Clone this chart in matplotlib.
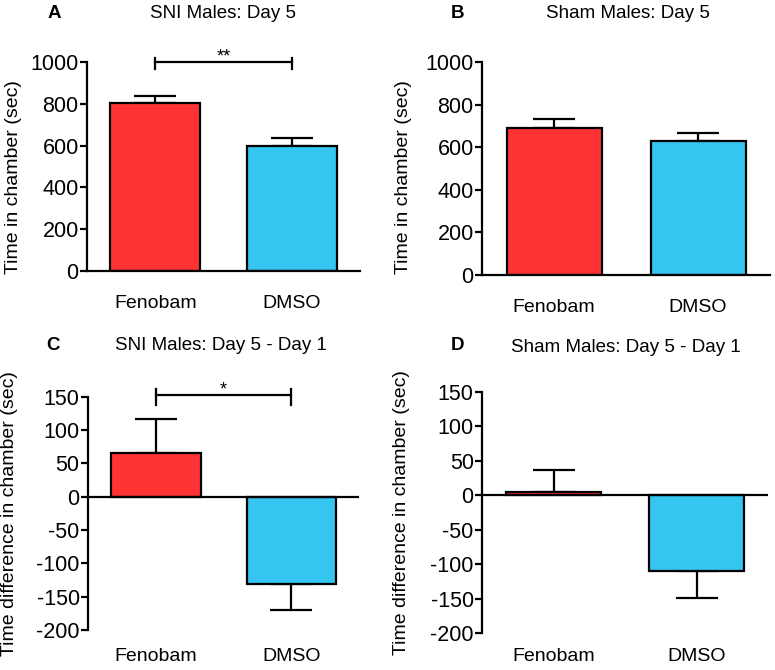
#!/usr/bin/env python3
import matplotlib
matplotlib.use("Agg")
import matplotlib.pyplot as plt
import numpy as np

# ====== Data ======
groups = ["Fenobam", "DMSO"]
colors = ["#FF3334", "#35C5F1"]

sni_day5 = [803, 600]
sni_day5_sem = [35, 37]
sham_day5 = [690, 630]
sham_day5_sem = [40, 37]

sni_diff = [65, -131]
sni_diff_sem = [51, 39]
sham_diff = [5, -110]
sham_diff_sem = [32, 39]
# ==================

plt.rcParams['font.family'] = ['Liberation Sans', 'DejaVu Sans']
plt.rcParams['axes.unicode_minus'] = False

fig = plt.figure(figsize=(7.75, 6.7), dpi=100)

LW = 1.6


def bar_panel(rect, vals, sems, ylim, yticks, ylabel, label_y, label_x,
              zero_line=False, xpad=17):
    ax = fig.add_axes(rect)
    x = np.arange(len(vals))
    ax.bar(x, vals, width=0.66, color=colors, edgecolor='black', linewidth=LW, zorder=2)
    # one-sided error bars (away from zero)
    for xi, v, s in zip(x, vals, sems):
        lo, hi = (0, s) if v >= 0 else (s, 0)
        ax.errorbar(xi, v, yerr=[[lo], [hi]], fmt='none', ecolor='black',
                    elinewidth=LW, capsize=15, capthick=LW, zorder=1)
    ax.set_xlim(-0.5, 1.5)
    ax.set_ylim(*ylim)
    ax.set_yticks(yticks)
    ax.set_xticks(x)
    ax.set_xticklabels(groups, fontsize=14)
    for s in ['top', 'right']:
        ax.spines[s].set_visible(False)
    ax.spines['left'].set_linewidth(LW)
    if zero_line:
        ax.spines['bottom'].set_visible(False)
        ax.axhline(0, color='black', linewidth=LW, zorder=3)
    else:
        ax.spines['bottom'].set_linewidth(LW)
        ax.spines['bottom'].set_zorder(3)
    ax.tick_params(axis='x', length=0, pad=xpad)
    ax.tick_params(axis='y', length=5, width=LW, labelsize=15.5, pad=1)
    ax.set_ylabel(ylabel, fontsize=14, va='center')
    ax.yaxis.set_label_coords(label_x, label_y)
    return ax


def sig_bar(ax, y, down, up, text):
    ax.plot([0, 1], [y, y], color='black', linewidth=LW, clip_on=False)
    for xi in [0, 1]:
        ax.plot([xi, xi], [y - down, y + up], color='black', linewidth=LW, clip_on=False)
    ax.text(0.5, y, text, ha='center', va='baseline', fontsize=13)


axA = bar_panel([0.1123, 0.5955, 0.352, 0.312], sni_day5, sni_day5_sem,
                (0, 1000), range(0, 1001, 200), "Time in chamber (sec)", 0.45, -0.271)
sig_bar(axA, 1000, 33, 19, "**")

axB = bar_panel([0.622, 0.5896, 0.3716, 0.318], sham_day5, sham_day5_sem,
                (0, 1000), range(0, 1001, 200), "Time in chamber (sec)", 0.46, -0.274)

axC = bar_panel([0.1135, 0.0597, 0.35, 0.348], sni_diff, sni_diff_sem,
                (-200, 150), range(-200, 151, 50), "Time difference in chamber (sec)",
                0.5, -0.288, zero_line=True, xpad=13)
sig_bar(axC, 153, 15, 9, "*")

axD = bar_panel([0.622, 0.0552, 0.369, 0.36], sham_diff, sham_diff_sem,
                (-200, 150), range(-200, 151, 50), "Time difference in chamber (sec)",
                0.5, -0.28, zero_line=True, xpad=11)

# panel letters and titles
W, H = 775.0, 670.0
panels = [("A", 54, 13, "SNI Males: Day 5", 223, 13),
          ("B", 458, 13, "Sham Males: Day 5", 628, 13),
          ("C", 53, 345, "SNI Males: Day 5 - Day 1", 221, 345),
          ("D", 458, 346, "Sham Males: Day 5 - Day 1", 626, 347)]
for letter, lx, ly, title, tx, ty in panels:
    fig.text(lx / W, 1 - ly / H, letter, ha='center', va='center', fontsize=13.5, fontweight='bold')
    fig.text(tx / W, 1 - ty / H, title, ha='center', va='center', fontsize=13.5)

fig.savefig("out.png", dpi=100)
